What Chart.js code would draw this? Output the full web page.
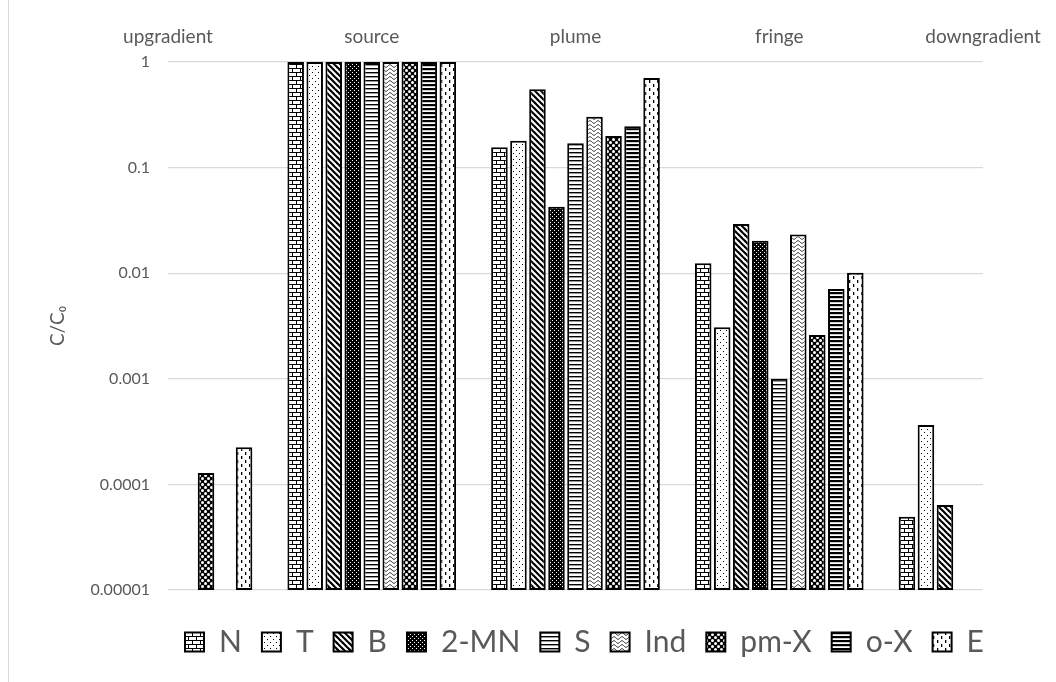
<!DOCTYPE html>
<html>
<head>
<meta charset="utf-8">
<script src="https://cdn.jsdelivr.net/npm/chart.js@4.4.1/dist/chart.umd.min.js"></script>
<style>
  html, body { margin: 0; padding: 0; background: #fff; }
</style>
</head>
<body>
<canvas id="ConcChart" width="1056" height="682"></canvas>
<script>
// sampling zones along the flow path and compounds
const zones = ['upgradient', 'source', 'plume', 'fringe', 'downgradient'];
const compounds = ['N', 'T', 'B', '2-MN', 'S', 'Ind', 'pm-X', 'o-X', 'E'];

// C/C0 per zone
const nValues   = [null,     1, 0.156,  0.0124,  0.0000495];
const tValues   = [null,     1, 0.180,  0.00307, 0.000365];
const bValues   = [null,     1, 0.551,  0.0292,  0.0000638];
const mnValues  = [null,     1, 0.0426, 0.0203,  null];
const sValues   = [null,     1, 0.170,  0.001,   null];
const indValues = [null,     1, 0.303,  0.0232,  null];
const pmxValues = [0.000128, 1, 0.199,  0.0026,  null];
const oxValues  = [null,     1, 0.246,  0.00708, null];
const eValues   = [0.000225, 1, 0.705,  0.0101,  null];

const yTicks = [0.00001, 0.0001, 0.001, 0.01, 0.1, 1];
const yTickLabels = ['0.00001', '0.0001', '0.001', '0.01', '0.1', '1'];

const seriesValues = [nValues, tValues, bValues, mnValues, sValues, indValues, pmxValues, oxValues, eValues];

const gray = '#595959';
const family = "Lato, 'DejaVu Sans', sans-serif";

// small tiles used as fill patterns (Excel style hatches)
function tile(w, h, paint) {
    const c = document.createElement('canvas');
    c.width = w;
    c.height = h;
    const g = c.getContext('2d');
    g.fillStyle = '#fff';
    g.fillRect(0, 0, w, h);
    g.fillStyle = '#000';
    g.strokeStyle = '#000';
    paint(g, w, h);
    return g.createPattern(c, 'repeat');
}

const patterns = [
    // N - horizontal brick
    tile(8, 8, g => {
        g.fillRect(0, 0, 8, 1);
        g.fillRect(0, 4, 8, 1);
        g.fillRect(0, 0, 1, 4);
        g.fillRect(4, 4, 1, 4);
    }),
    // T - light dots
    tile(6, 6, g => {
        g.fillRect(0, 0, 1, 1);
        g.fillRect(3, 3, 1, 1);
    }),
    // B - wide downward diagonal
    tile(6, 6, g => {
        g.lineWidth = 2.2;
        for (const k of [-6, 0, 6]) {
            g.beginPath();
            g.moveTo(k - 1, -1);
            g.lineTo(k + 7, 7);
            g.stroke();
        }
    }),
    // 2-MN - dark with white dots
    tile(4, 4, g => {
        g.fillRect(0, 0, 4, 4);
        g.fillStyle = '#fff';
        g.fillRect(0, 0, 1, 1);
        g.fillRect(2, 2, 1, 1);
    }),
    // S - narrow horizontal
    tile(4, 4, g => {
        g.fillRect(0, 0, 4, 1.4);
    }),
    // Ind - wave
    tile(8, 4, g => {
        g.lineWidth = 1;
        g.strokeStyle = '#222';
        g.beginPath();
        for (let x = -1; x <= 9; x += 0.5) {
            const y = 2 + 1.3 * Math.sin(2 * Math.PI * x / 8);
            if (x === -1) g.moveTo(x, y); else g.lineTo(x, y);
        }
        g.stroke();
    }),
    // pm-X - spheres
    tile(6, 6, g => {
        g.fillRect(0, 0, 6, 6);
        g.fillStyle = '#fff';
        for (const [cx, cy] of [[1.5, 1.5], [4.5, 4.5]]) {
            g.beginPath();
            g.arc(cx, cy, 1.5, 0, Math.PI * 2);
            g.fill();
        }
    }),
    // o-X - dark horizontal
    tile(4, 4, g => {
        g.fillRect(0, 0, 4, 2.2);
    }),
    // E - dashed vertical
    tile(8, 8, g => {
        g.fillRect(1, 0, 1.3, 3);
        g.fillRect(5, 4, 1.3, 3);
    })
];

// place the legend row where the reference has it
const placeLegend = {
    id: 'placeLegend',
    afterLayout(chart) {
        const lg = chart.legend;
        lg.left = 165;
        lg.right = chart.width;
        lg.top = 607;
        lg.bottom = chart.height;
        lg.width = lg.right - lg.left;
        lg.height = lg.bottom - lg.top;
    }
};

const chartFrame = {
    id: 'chartFrame',
    beforeDraw(chart) {
        const c = chart.ctx;
        c.save();
        c.fillStyle = '#fff';
        c.fillRect(0, 0, chart.width, chart.height);
        c.strokeStyle = '#d9d9d9';
        c.lineWidth = 1;
        c.beginPath();
        c.moveTo(8.5, 0);
        c.lineTo(8.5, chart.height);
        c.stroke();
        c.restore();
    }
};

const ctx = document.getElementById('ConcChart').getContext('2d');

new Chart(ctx, {
    type: 'bar',
    data: {
        labels: zones,
        datasets: compounds.map((name, i) => ({
            label: name,
            data: seriesValues[i],
            backgroundColor: patterns[i],
            borderColor: '#000',
            borderWidth: 2,
            borderSkipped: false,
            categoryPercentage: 0.84,
            barPercentage: 0.87
        }))
    },
    options: {
        responsive: false,
        animation: false,
        devicePixelRatio: 1,
        layout: { padding: { left: 0, right: 73, top: 0, bottom: 32 } },
        plugins: {
            tooltip: { enabled: false },
            legend: {
                position: 'bottom',
                align: 'start',
                labels: {
                    color: gray,
                    font: { family: family, size: 30 },
                    boxWidth: 19,
                    boxHeight: 19,
                    padding: 20
                }
            }
        },
        scales: {
            x: {
                type: 'category',
                position: 'top',
                offset: false,
                grid: { display: false, drawTicks: false },
                border: { display: false },
                ticks: {
                    color: gray,
                    font: { family: family, size: 19 },
                    padding: 14,
                    maxRotation: 0,
                    autoSkip: false
                },
                afterFit: scale => { scale.height = 62; }
            },
            y: {
                type: 'logarithmic',
                min: 0.00001,
                max: 1,
                grid: { color: '#d9d9d9', lineWidth: 1.3, drawTicks: false },
                border: { display: false },
                ticks: {
                    color: gray,
                    font: { family: family, size: 16 },
                    padding: 18,
                    callback: (value, index) => yTickLabels[index]
                },
                afterBuildTicks: scale => {
                    scale.ticks = yTicks.map(v => ({ value: v }));
                },
                afterFit: scale => { scale.width = 168; },
                title: {
                    display: true,
                    text: 'C/C\u2080',
                    color: gray,
                    font: { family: family, size: 19 },
                    padding: { top: 46, bottom: 0 }
                }
            }
        }
    },
    plugins: [placeLegend, chartFrame]
});
</script>
</body>
</html>
